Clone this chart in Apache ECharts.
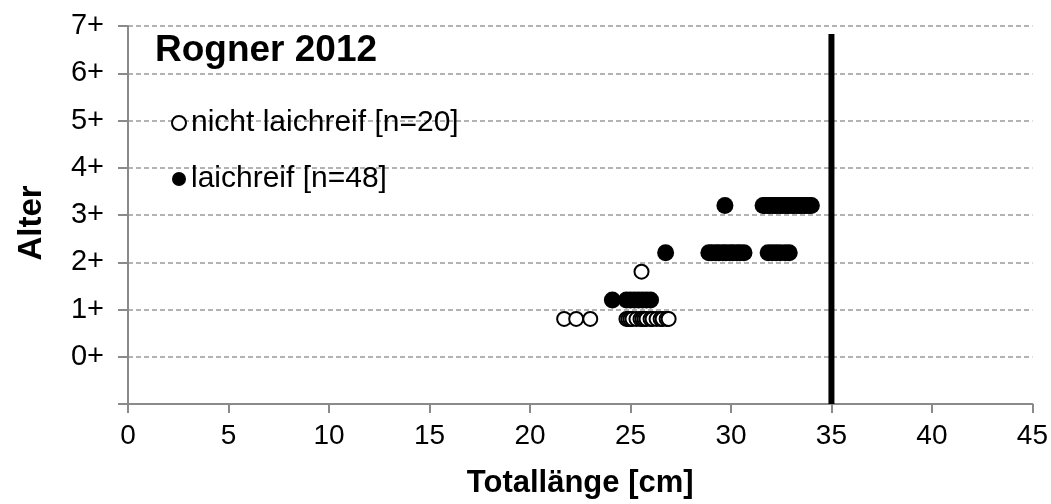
<!DOCTYPE html>
<html>
<head>
<meta charset="utf-8">
<title>Rogner 2012</title>
<script src="https://cdn.jsdelivr.net/npm/echarts@6/dist/echarts.min.js"></script>
<style>
html, body { margin: 0; padding: 0; background: #fff; }
#chart { width: 1051px; height: 504px; }
</style>
</head>
<body>
<div id="chart"></div>
<script>
// Totallänge [cm] der nicht laichreifen Rogner (n=20)
var openLen = [21.7, 22.3, 23.0,
    24.8, 24.9, 25.0, 25.1, 25.3, 25.5, 25.6, 25.7, 25.8, 26.0, 26.1, 26.3, 26.5, 26.6, 26.8, 26.9,
    25.55];
var openAge = [0.8, 0.8, 0.8,
    0.8, 0.8, 0.8, 0.8, 0.8, 0.8, 0.8, 0.8, 0.8, 0.8, 0.8, 0.8, 0.8, 0.8, 0.8, 0.8,
    1.8];

// laichreife Rogner (n=48)
var ripeLen = [24.1, 24.8, 25.0, 25.2, 25.4, 25.6, 25.8, 26.0,
    26.75,
    28.9, 29.05, 29.25, 29.4, 29.6, 29.75, 29.95, 30.1, 30.3, 30.45, 30.65,
    31.85, 32.05, 32.25, 32.45, 32.7, 32.9,
    29.7,
    31.6, 31.7, 31.85, 31.95, 32.1, 32.2, 32.3, 32.45, 32.55, 32.7, 32.8, 32.9, 33.05, 33.15, 33.3, 33.4, 33.5, 33.65, 33.75, 33.9, 34.0];
var ripeAge = [1.2, 1.2, 1.2, 1.2, 1.2, 1.2, 1.2, 1.2,
    2.2,
    2.2, 2.2, 2.2, 2.2, 2.2, 2.2, 2.2, 2.2, 2.2, 2.2, 2.2,
    2.2, 2.2, 2.2, 2.2, 2.2, 2.2,
    3.2,
    3.2, 3.2, 3.2, 3.2, 3.2, 3.2, 3.2, 3.2, 3.2, 3.2, 3.2, 3.2, 3.2, 3.2, 3.2, 3.2, 3.2, 3.2, 3.2, 3.2, 3.2];

// Grenzlinie bei 35 cm
var limitLen = [35, 35];
var limitAge = [-1, 6.83];

var seriesNames = ["nicht laichreif [n=20]", "laichreif [n=48]"];
var xTicks = [0, 45, 5];   // min, max, interval
var yTicks = [-1, 7, 1];

function pairs(xs, ys){
    var out = [];
    for(var i=0;i<xs.length;i++){
        out.push([xs[i], ys[i]]);
    }
    return out;
}

var font = "'Liberation Sans', Arial, sans-serif";
var chart = echarts.init(document.getElementById("chart"));

var option = {
    "animation": false,
    "backgroundColor": "#fff",
    "title": {
        "text": "Rogner 2012",
        "left": 150,
        "top": 27,
        "textStyle": {"fontFamily": font, "fontSize": 37, "fontWeight": "bold", "color": "#000"}
    },
    "legend": {
        "orient": "vertical",
        "left": 166,
        "top": 102,
        "itemGap": 24,
        "itemWidth": 14,
        "itemHeight": 14,
        "data": seriesNames,
        "textStyle": {"fontFamily": font, "fontSize": 30, "color": "#000", "lineHeight": 32}
    },
    "grid": {"left": 128, "right": 14, "top": 26, "bottom": 99, "containLabel": false},
    "xAxis": {
        "type": "value",
        "min": xTicks[0], "max": xTicks[1], "interval": xTicks[2],
        "name": "Totallänge [cm]",
        "nameLocation": "middle",
        "nameGap": 64,
        "nameTextStyle": {"fontFamily": font, "fontSize": 31, "fontWeight": "bold", "color": "#000"},
        "axisLine": {"onZero": false, "lineStyle": {"color": "#8a8a8a", "width": 2}},
        "axisTick": {"show": true, "length": 9, "lineStyle": {"color": "#8a8a8a", "width": 2}},
        "axisLabel": {"fontFamily": font, "fontSize": 28, "color": "#000", "margin": 18},
        "splitLine": {"show": false}
    },
    "yAxis": {
        "type": "value",
        "min": yTicks[0], "max": yTicks[1], "interval": yTicks[2],
        "name": "Alter",
        "nameLocation": "middle",
        "nameGap": 80,
        "nameTextStyle": {"fontFamily": font, "fontSize": 33, "fontWeight": "bold", "color": "#000", "padding": [0, 16, 0, 0]},
        "axisLine": {"show": true, "onZero": false, "lineStyle": {"color": "#8a8a8a", "width": 2}},
        "axisTick": {"show": true, "length": 10, "lineStyle": {"color": "#8a8a8a", "width": 2}},
        "axisLabel": {
            "fontFamily": font, "fontSize": 29, "color": "#000", "margin": 24,
            "formatter": function(v){ return v < 0 ? "" : v + "+"; }
        },
        "splitLine": {"show": true, "lineStyle": {"color": "#9a9a9a", "width": 1.5, "type": [5, 3]}}
    },
    "series": [
        {
            "name": seriesNames[0],
            "type": "scatter",
            "symbol": "circle",
            "symbolSize": 14,
            "itemStyle": {"color": "#fff", "borderColor": "#000", "borderWidth": 2, "opacity": 1},
            "data": pairs(openLen, openAge),
            "z": 3
        },
        {
            "name": seriesNames[1],
            "type": "scatter",
            "symbol": "circle",
            "symbolSize": 17,
            "itemStyle": {"color": "#000", "opacity": 1},
            "data": pairs(ripeLen, ripeAge),
            "z": 4
        },
        {
            "name": "Grenze",
            "type": "line",
            "showSymbol": false,
            "symbol": "none",
            "lineStyle": {"color": "#000", "width": 6},
            "data": pairs(limitLen, limitAge),
            "z": 5
        }
    ]
};
if( option && option.series ){
    chart.setOption(option);
}
</script>
</body>
</html>
